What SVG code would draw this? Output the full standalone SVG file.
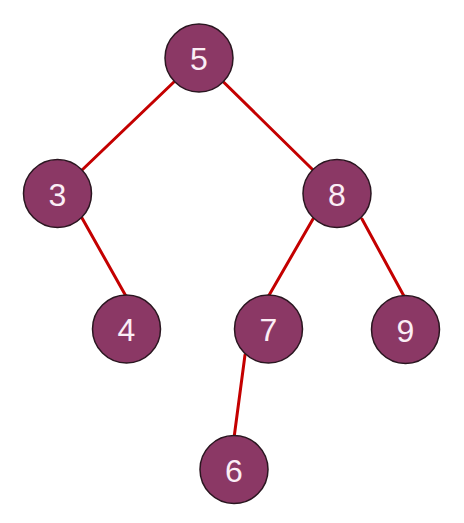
<svg xmlns="http://www.w3.org/2000/svg" width="464" height="523" viewBox="0 0 464 523">
<style>
.edge{stroke:#c40000;stroke-width:3;stroke-linecap:round;fill:none}
.node circle{fill:#8b3865;stroke:#2a1620;stroke-width:1.5}
.node text{fill:#fbeef5;font-family:"Liberation Sans",Arial,sans-serif;font-size:32px;text-anchor:middle}
</style>
<rect width="464" height="523" fill="#ffffff"/>
<g id="connectors">
<line class="edge" x1="199" y1="58" x2="57.5" y2="193.5"/>
<line class="edge" x1="199" y1="58" x2="337" y2="193.5"/>
<line class="edge" x1="82" y1="218" x2="127" y2="298"/>
<line class="edge" x1="313" y1="219" x2="268" y2="297"/>
<line class="edge" x1="362" y1="219" x2="405" y2="298"/>
<line class="edge" x1="245" y1="355" x2="234" y2="438"/>
</g>
<g id="node-5" class="node"><circle cx="199" cy="58" r="34"/><text x="199" y="70">5</text></g>
<g id="node-3" class="node"><circle cx="57.5" cy="193.5" r="34"/><text x="57.5" y="205.5">3</text></g>
<g id="node-8" class="node"><circle cx="337" cy="193.5" r="34"/><text x="337" y="205.5">8</text></g>
<g id="node-4" class="node"><circle cx="126.5" cy="329" r="34"/><text x="126.5" y="341">4</text></g>
<g id="node-7" class="node"><circle cx="268.5" cy="329" r="34"/><text x="268.5" y="341">7</text></g>
<g id="node-9" class="node"><circle cx="405.5" cy="329.5" r="34"/><text x="405.5" y="341.5">9</text></g>
<g id="node-6" class="node"><circle cx="234" cy="469.5" r="34"/><text x="234" y="481.5">6</text></g>
</svg>
